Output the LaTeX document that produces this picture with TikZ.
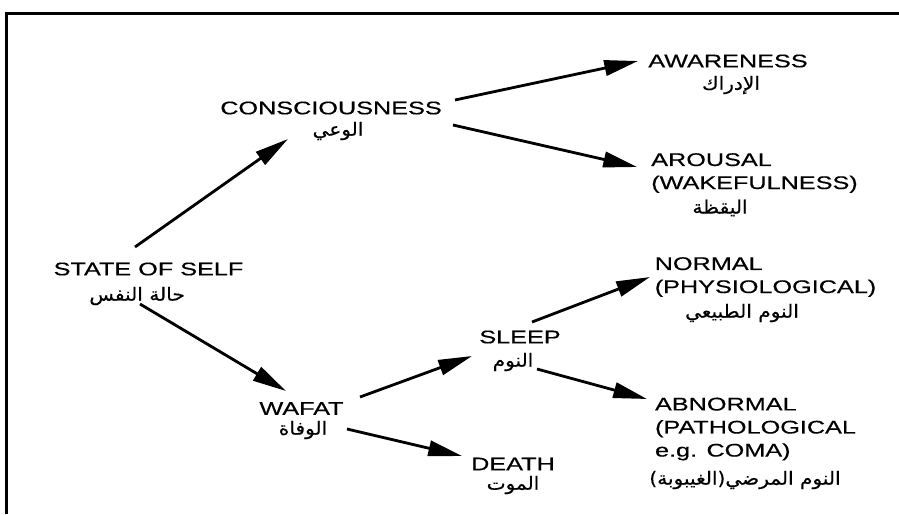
\documentclass[tikz,border=0pt]{standalone}
\usepackage{fontspec}
\setmainfont{Liberation Sans}[FakeStretch=1.38,FakeBold=0.4]
\newfontfamily\arabicfont[Script=Arabic,FakeStretch=1.1,FakeBold=0.4]{DejaVu Sans}
\TeXXeTstate=1
\usetikzlibrary{arrows.meta}

\begin{document}
\begin{tikzpicture}[x=0.025cm,y=-0.025cm,
    term/.style={font=\fontsize{13}{16.4}\selectfont,align=left,inner sep=0pt},
    gloss/.style={font=\fontsize{13}{15}\selectfont\arabicfont,inner sep=0pt},
    link/.style={-{Triangle[length=24pt,width=11pt]},line width=2pt}]

  \useasboundingbox (0,0) rectangle (899,514);
  \draw[line width=2.2pt] (6.5,514) -- (6.5,13.5) -- (899,13.5);

  \node[term]  (state)    at (148.5,269) {STATE OF SELF};
  \node[term]  (consc)    at (331,108)   {CONSCIOUSNESS};
  \node[term]  (aware)    at (728,61)    {AWARENESS};
  \node[term]  (arousal)  at (754.5,173) {AROUSAL\\(WAKEFULNESS)};
  \node[term]  (wafat)    at (301.5,408.5) {WAFAT};
  \node[term]  (sleep)    at (520,337)   {SLEEP};
  \node[term]  (normal)   at (765.5,277) {NORMAL\\(PHYSIOLOGICAL)};
  \node[term]  (abnormal) at (755.5,429) {ABNORMAL\\(PATHOLOGICAL\\e.g. COMA)};
  \node[term]  (death)    at (513,464)   {DEATH};

  \node[gloss] (state-ar)    at (137,296) {\beginR حالة النفس\endR};
  \node[gloss] (consc-ar)    at (338,131) {\beginR الوعي\endR};
  \node[gloss] (aware-ar)    at (731,85)  {\beginR الإدراك\endR};
  \node[gloss] (arousal-ar)  at (720,208) {\beginR اليقظة\endR};
  \node[gloss] (wafat-ar)    at (303,430) {\beginR الوفاة\endR};
  \node[gloss] (sleep-ar)    at (513,362) {\beginR النوم\endR};
  \node[gloss] (normal-ar)   at (742,313) {\beginR النوم الطبيعي\endR};
  \node[gloss] (abnormal-ar) at (745,480) {\beginR النوم المرضي(الغيبوبة)\endR};
  \node[gloss] (death-ar)    at (513,485) {\beginR الموت\endR};

  \draw[link] ([shift={(-13.5,-22)}]state.center) -- ([shift={(-43,31)}]consc.center);
  \draw[link] ([shift={(124,-8)}]consc.center) -- ([shift={(-90,0)}]aware.center);
  \draw[link] ([shift={(122,17)}]consc.center) -- ([shift={(-117.5,-6)}]arousal.center);
  \draw[link] ([shift={(-8.5,35)}]state.center) -- ([shift={(-15.5,-17.5)}]wafat.center);
  \draw[link] ([shift={(58.5,-11.5)}]wafat.center) -- ([shift={(-48,19)}]sleep.center);
  \draw[link] ([shift={(45.5,20.5)}]wafat.center) -- ([shift={(-51,-8)}]death.center);
  \draw[link] ([shift={(12,-15)}]sleep.center) -- ([shift={(-115.5,0)}]normal.center);
  \draw[link] ([shift={(17,32)}]sleep.center) -- ([shift={(-108.5,-30)}]abnormal.center);

\end{tikzpicture}
\end{document}
